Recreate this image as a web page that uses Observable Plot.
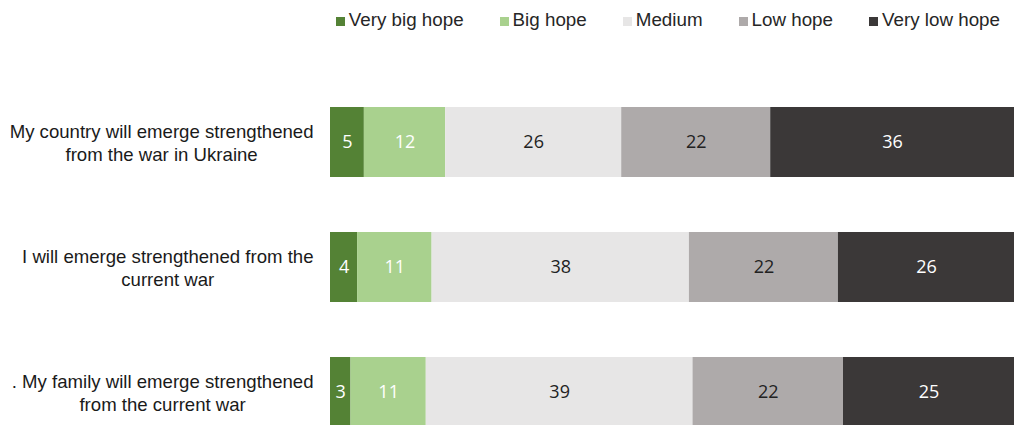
<!DOCTYPE html>
<html><head><meta charset="utf-8">
<script src="https://cdn.jsdelivr.net/npm/d3@7"></script>
<script src="https://cdn.jsdelivr.net/npm/@observablehq/plot@0.6"></script>
<style>
body{margin:0;background:#fff;overflow:hidden;width:1014px;height:425px}
#legend{height:40px;display:flex;justify-content:flex-end;align-items:center;gap:36px;padding-right:14px;box-sizing:border-box;font:18.8px "Liberation Sans",Arial,sans-serif;color:#262626}
#legend .item{display:flex;align-items:center}
#legend .sw{display:inline-block;width:9px;height:9px;margin-right:4px;margin-top:3px}
</style></head><body><div id="legend"></div><div id="chart"></div>
<script>
const questions = [
  "My country will emerge strengthened\nfrom the war in Ukraine",
  "I will emerge strengthened from the\ncurrent war",
  ". My family will emerge strengthened\nfrom the current war"
];
const levels = ["Very big hope", "Big hope", "Medium", "Low hope", "Very low hope"];
const veryBigHope = [5, 4, 3];
const bigHope = [12, 11, 11];
const medium = [26, 38, 39];
const lowHope = [22, 22, 22];
const veryLowHope = [36, 26, 25];
const colors = ["#548235", "#a9d18e", "#e7e6e6", "#aeaaaa", "#3b3838"];
const whiteText = ["Very big hope", "Big hope", "Very low hope"];

const series = [veryBigHope, bigHope, medium, lowHope, veryLowHope];
const data = [];
questions.forEach((q, i) => levels.forEach((l, j) => data.push({q, level: l, value: series[j][i]})));

// legend
const leg = d3.select("#legend");
levels.forEach((l, j) => {
  const it = leg.append("div").attr("class", "item");
  it.append("span").attr("class", "sw").style("background", colors[j]);
  it.append("span").text(l);
});

const labelSize = 18.6;
const labelFont = labelSize + "px 'Liberation Sans', Arial, sans-serif";
const ctx = document.createElement("canvas").getContext("2d");
ctx.font = labelFont;
const labelMarks = questions.map(q => {
  const w = d3.max(q.split("\n"), s => ctx.measureText(s).width);
  return Plot.text([q], {
    y: d => d, text: d => d, frameAnchor: "left", textAnchor: "middle",
    dx: -17 - w / 2, lineHeight: 1.2, fontSize: labelSize,
    fontFamily: "'Liberation Sans', Arial, sans-serif", fill: "#1a1a1a"
  });
});

const stackOpts = extra => Plot.stackX({offset: "normalize", x: "value", y: "q", z: "level", order: levels, ...extra});

const chart = Plot.plot({
  width: 1014, height: 395,
  marginLeft: 330, marginRight: 0, marginTop: 66, marginBottom: 7,
  x: {axis: null, domain: [0, 1]},
  y: {axis: null, domain: questions, paddingInner: 0.444, paddingOuter: 0},
  color: {domain: levels, range: colors},
  style: {fontFamily: "'Open Sans', sans-serif", background: "#fff", overflow: "visible"},
  marks: [
    Plot.barX(data, stackOpts({fill: "level"})),
    Plot.text(data, stackOpts({text: d => whiteText.includes(d.level) ? d.value : null, fill: "#fff", fontSize: 18})),
    Plot.text(data, stackOpts({text: d => whiteText.includes(d.level) ? null : d.value, fill: "#222", fontSize: 18})),
    ...labelMarks
  ]
});
document.getElementById("chart").append(chart);
</script>
</body></html>
